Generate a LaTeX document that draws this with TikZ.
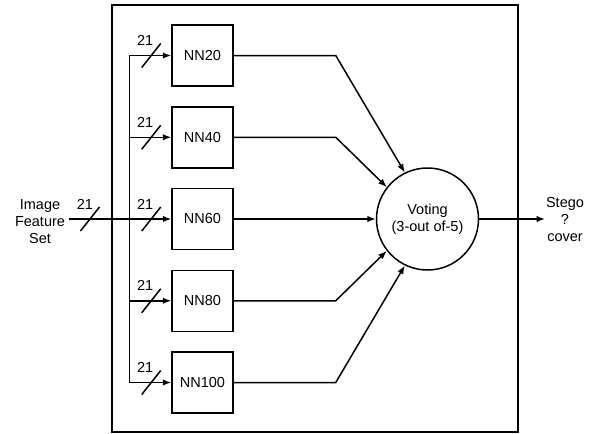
\documentclass[tikz,border=0pt]{standalone}
\usepackage{fontspec}
\setmainfont{Liberation Sans}
\usetikzlibrary{arrows.meta,calc}
\begin{document}
\begin{tikzpicture}[x=1pt,y=-1pt,
  line width=1.5pt,
  txt/.style={font=\fontsize{14.5}{17}\selectfont},
  box/.style={draw, minimum width=61pt, minimum height=61pt, inner sep=0pt, txt},
  arr/.style={-{Latex[length=8.5pt,width=6.5pt]}},
  lbl/.style={txt, inner sep=0pt},
  slashmark/.style={line width=1.5pt},
  ]
\useasboundingbox (0,0) rectangle (595,434);
% outer frame
\node[draw, minimum width=406pt, minimum height=427pt, inner sep=0pt] (frame) at (315,218.5) {};
% NN boxes
\node[box] (nn20)  at (202.5,55.5)  {NN20};
\node[box] (nn40)  at (202.5,137.25) {NN40};
\node[box] (nn60)  at (202.5,219)   {NN60};
\node[box] (nn80)  at (202.5,300.75) {NN80};
\node[box] (nn100) at (202.5,382.5) {NN100};
% voting
\node[circle, draw, minimum size=102pt, inner sep=0pt, align=center, txt] (vote) at (427.5,219) {Voting\\(3-out of-5)};
% input text
\node[txt, align=center, inner sep=3pt] (feat) at (40,222) {Image\\Feature\\Set};
% output text
\node[txt, align=center, inner sep=0pt] (outtxt) at (565,220) {Stego\\?\\cover};
\coordinate (out) at (545,219);
% bus coordinates
\foreach \n in {20,40,60,80,100}{
  \path (nn\n.west) ++(-42,0) coordinate (b\n);
  \path (nn\n.west) ++(-20,0) coordinate (s\n);
  \path (nn\n.east) ++(102,0) coordinate (k\n);
}
% bus
\draw (b20) -- (b100);
% branches
\foreach \n in {20,40,80,100}{
  \draw[arr] (b\n) -- (nn\n.west);
}
% input line
\draw[arr] (feat.east |- nn60.west) -- (nn60.west);
% slashes on branches
\foreach \n in {20,40,60,80,100}{
  \draw[slashmark] (s\n) ++(-9.5,12) -- ++(19,-24);
  \node[lbl] at ($(s\n)+(-6,-15)$) {21};
}
% slash on input
\coordinate (sin) at (90,219);
\draw[slashmark] (sin) ++(-9.5,12) -- ++(19,-24);
\node[lbl] at (85,204) {21};
% to voting
\draw[arr] (nn20.east) -- (k20) -- (vote.116);
\draw[arr] (nn40.east) -- (k40) -- (vote.142);
\draw[arr] (nn60.east) -- (vote.west);
\draw[arr] (nn80.east) -- (k80) -- (vote.218);
\draw[arr] (nn100.east) -- (k100) -- (vote.244);
% output
\draw[arr] (vote.east) -- (out);
\end{tikzpicture}
\end{document}
